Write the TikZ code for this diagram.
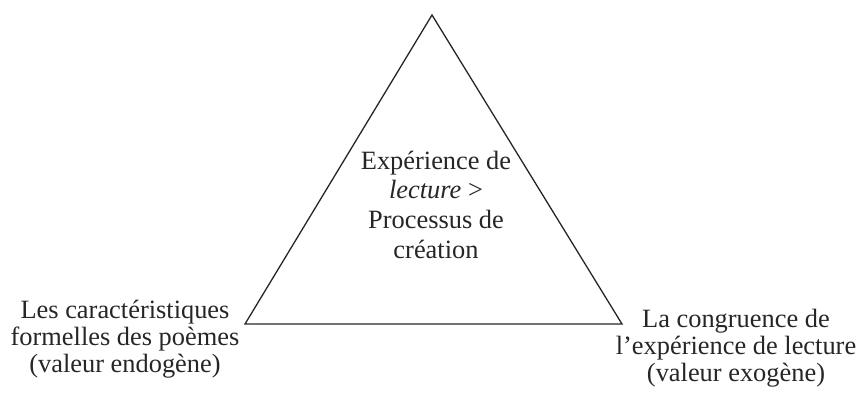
\documentclass[tikz,border=0pt]{standalone}
\usepackage{fontspec}
\setmainfont{Liberation Serif}
\setlength{\tabcolsep}{0pt}
\begin{document}
\begin{tikzpicture}[x=1pt,y=1pt,
  lbl/.style={anchor=base,inner sep=0pt,text=black!85,font=\fontsize{26.4}{27}\selectfont},
  mid/.style={anchor=base,inner sep=0pt,text=black!85,font=\fontsize{26.4}{29.7}\selectfont},
  edge/.style={draw=black!85,line width=1.3pt,line join=miter}]
\useasboundingbox (0,0) rectangle (861,394);
\coordinate (top) at (432,379);
\coordinate (bl) at (245,70);
\coordinate (br) at (622,70);
\draw[edge] (top) -- (br) -- (bl) -- cycle;
\node[mid] (c) at (436,225) {\begin{tabular}[t]{c}Expérience de\\\textit{lecture} >\\Processus de\\création\end{tabular}};
\node[lbl] (l) at (125,76) {\begin{tabular}[t]{c}Les caractéristiques\\formelles des poèmes\\(valeur endogène)\end{tabular}};
\node[lbl] (r) at (736,67) {\begin{tabular}[t]{c}La congruence de\\l’expérience de lecture\\(valeur exogène)\end{tabular}};
\end{tikzpicture}
\end{document}
